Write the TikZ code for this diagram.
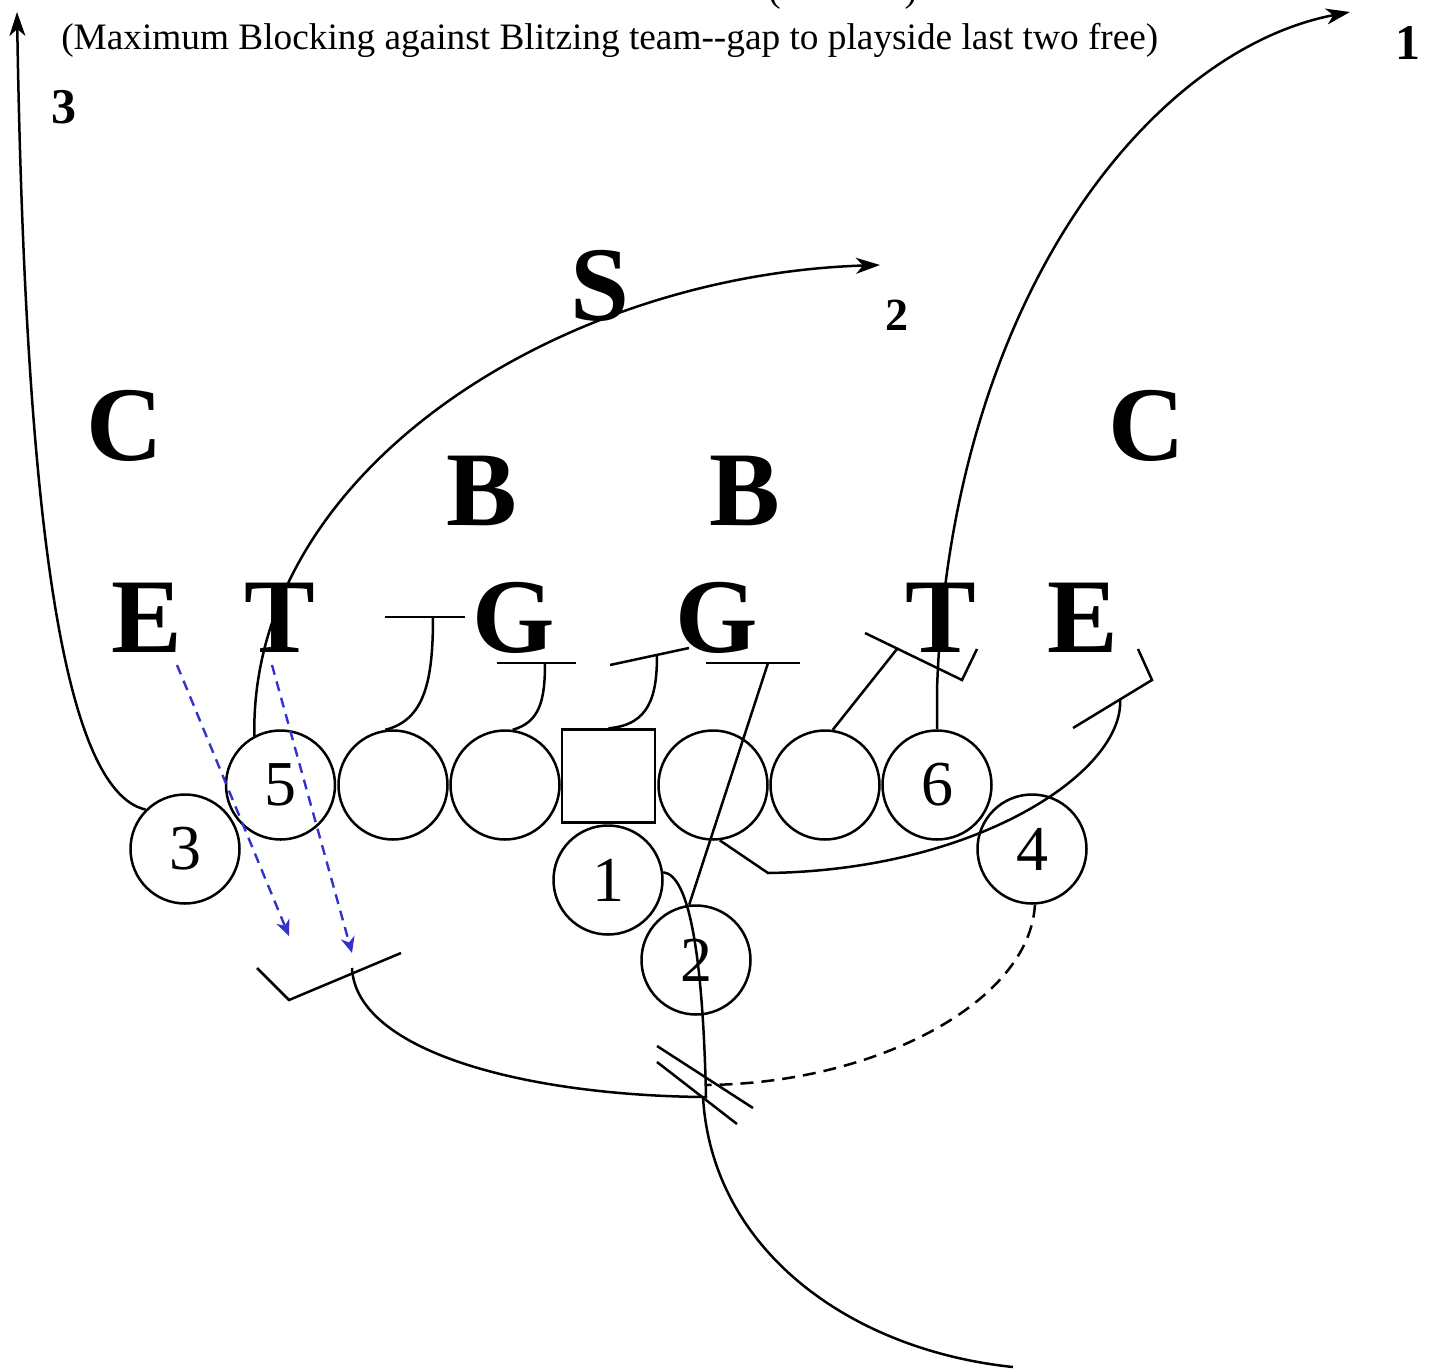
\documentclass[tikz,border=0pt]{standalone}
\usepackage{fontspec}
\setmainfont{Liberation Serif}
\usetikzlibrary{arrows.meta}
\definecolor{blitzblue}{RGB}{51,51,204}
\begin{document}
\begin{tikzpicture}[x=0.5pt,y=-0.5pt,line width=1.25pt,
  player/.style={circle,draw,line width=1.25pt,minimum size=54.5pt,inner sep=0pt,font=\fontsize{32}{32}\selectfont},
  ctrbox/.style={rectangle,draw,line width=1.25pt,minimum size=46.5pt,inner sep=0pt},
  big/.style={font=\fontsize{53}{53}\selectfont\bfseries,inner sep=0pt,anchor=base},
  num/.style={font=\fontsize{25}{25}\selectfont\bfseries,inner sep=0pt},
  small/.style={font=\fontsize{18.65}{20}\selectfont,inner sep=0pt,anchor=base west},
  arr/.style={-{Stealth[length=12pt,width=8pt,inset=3.5pt]}},
  blitz/.style={draw=blitzblue,dash pattern=on 5pt off 3.5pt,line width=1.2pt,-{Stealth[length=8pt,width=7pt,inset=2.5pt]}},
  motion/.style={dash pattern=on 6.5pt off 4pt},
]
\path[use as bounding box] (0,0) rectangle (1430,1371);
\clip (0,0) rectangle (1430,1371);

% texts
\node[small] (toptitle) at (767,1) {(\hspace{62pt})};
\node[small] (title) at (60,49) {(Maximum Blocking against Blitzing team\mbox{-}\mbox{-}gap to playside last two free)};
\node[num] (n3) at (64,107) {3};
\node[num] (n1) at (1408,43) {1};
\node[num,font=\fontsize{23}{23}\selectfont\bfseries] (n2) at (897,315) {2};

\node[big] (dS) at (600,320) {S};
\node[big] (dC1) at (125,460) {C};
\node[big] (dC2) at (1147,460) {C};
\node[big] (dB1) at (482,525) {B};
\node[big] (dB2) at (745,525) {B};
\node[big] (dE1) at (147,652) {E};
\node[big] (dT1) at (280,652) {T};
\node[big] (dG1) at (514,652) {G};
\node[big] (dG2) at (717,652) {G};
\node[big] (dT2) at (941,652) {T};
\node[big] (dE2) at (1083,652) {E};

% offense
\node[player] (p3) at (185,849) {\raisebox{-1.5pt}{3}};
\node[player] (p5) at (280.5,785) {\raisebox{-1.5pt}{5}};
\node[player] (ol1) at (393,785) {};
\node[player] (ol2) at (505,785) {};
\node[ctrbox] (ctr) at (608.5,776) {};
\node[player] (ol4) at (713,785) {};
\node[player] (ol5) at (825,785) {};
\node[player] (p6) at (937,785) {\raisebox{-1.5pt}{6}};
\node[player] (p4) at (1032,849) {\raisebox{-1.5pt}{4}};
\node[player] (p1) at (608,880) {\raisebox{-1.5pt}{1}};
\node[player] (p2) at (696,960) {\raisebox{-1.5pt}{2}};

% free ends
\coordinate (e3) at (17,12);
\coordinate (e5) at (880,265);
\coordinate (e6) at (1350,12);
\coordinate (v6) at (937,690);
\coordinate (aL) at (385,617); \coordinate (aR) at (465,617); \coordinate (aS) at (433,617);
\coordinate (bL) at (497,663); \coordinate (bR) at (576,663); \coordinate (bS) at (545,663);
\coordinate (cL) at (610,665); \coordinate (cR) at (689,648); \coordinate (cS) at (657,655);
\coordinate (dL) at (706,663); \coordinate (dR) at (800,663); \coordinate (dS2) at (768,663);
\coordinate (fL) at (865,633); \coordinate (fR) at (962,680); \coordinate (fH) at (977,649); \coordinate (fS) at (897,649);
\coordinate (gT) at (1138,649); \coordinate (gC) at (1152,680); \coordinate (gE) at (1073,728); \coordinate (gS) at (1120,699);
\coordinate (gK) at (768,873);
\coordinate (hL) at (257,968); \coordinate (hC) at (289,1000); \coordinate (hR) at (401,953); \coordinate (hS) at (352,968);
\coordinate (j1) at (706,1097); \coordinate (j2) at (703,1097);
\coordinate (qe) at (1013,1367);
\coordinate (m4) at (707,1085);
\coordinate (s1a) at (657,1046); \coordinate (s1b) at (753,1108);
\coordinate (s2a) at (657,1062); \coordinate (s2b) at (737,1124);
\coordinate (bz1a) at (177,665); \coordinate (bz1b) at (289,936);
\coordinate (bz2a) at (272,665); \coordinate (bz2b) at (352,953);

% routes
\draw[arr] (p3.135) .. controls (60,790) and (25,500) .. (e3);
\draw[arr] (p5.118) .. controls (250,470) and (560,275) .. (e5);
\draw[arr] (p6.north) -- (v6) .. controls (950,300) and (1150,50) .. (e6);

% blocks
\draw (aL) -- (aR);
\draw (ol1.98) .. controls (425,720) and (433,680) .. (aS);
\draw (bL) -- (bR);
\draw (ol2.82) .. controls (540,722) and (545,700) .. (bS);
\draw (cL) -- (cR);
\draw (ctr.north) .. controls (650,725) and (657,695) .. (cS);
\draw (dL) -- (dR);
\draw (p2.97) -- (dS2);
\draw (fL) -- (fR) -- (fH);
\draw (ol5.82) -- (fS);
\draw (gT) -- (gC) -- (gE);
\draw (ol4.-83) -- (gK) .. controls (980,870) and (1125,770) .. (gS);
\draw (hL) -- (hC) -- (hR);
\draw (p1.8) .. controls (690,875) and (703,960) .. (j1) -- (j2) .. controls (520,1095) and (356,1050) .. (hS);
\draw (j2) .. controls (712,1250) and (850,1350) .. (qe);
\draw (s1a) -- (s1b);
\draw (s2a) -- (s2b);
\draw[motion] (p4.-87) .. controls (1030,1000) and (880,1083) .. (m4);

% blitz
\draw[blitz] (bz1a) -- (bz1b);
\draw[blitz] (bz2a) -- (bz2b);
\end{tikzpicture}
\end{document}
